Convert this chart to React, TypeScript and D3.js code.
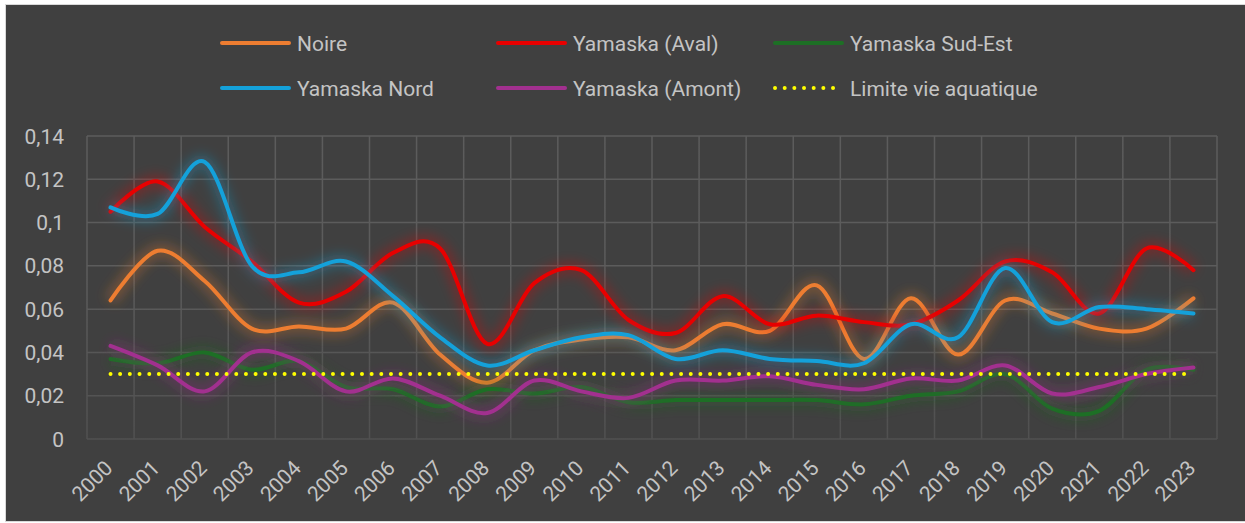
import React, { useRef, useEffect } from 'react';
import * as d3 from 'd3';

// categories
const years = ['2000', '2001', '2002', '2003', '2004', '2005', '2006', '2007', '2008', '2009', '2010', '2011',
    '2012', '2013', '2014', '2015', '2016', '2017', '2018', '2019', '2020', '2021', '2022', '2023'];

// series values
const noire = [0.064, 0.087, 0.073, 0.051, 0.052, 0.051, 0.063, 0.039, 0.026, 0.041, 0.046, 0.047,
    0.041, 0.053, 0.050, 0.071, 0.037, 0.065, 0.039, 0.064, 0.058, 0.051, 0.051, 0.065];
const aval = [0.105, 0.119, 0.098, 0.082, 0.063, 0.068, 0.086, 0.088, 0.044, 0.072, 0.078, 0.055,
    0.049, 0.066, 0.053, 0.057, 0.054, 0.053, 0.064, 0.082, 0.077, 0.058, 0.088, 0.078];
const sudEst = [0.037, 0.035, 0.040, 0.032, 0.036, 0.024, 0.023, 0.015, 0.023, 0.021, 0.024, 0.017,
    0.018, 0.018, 0.018, 0.018, 0.016, 0.020, 0.022, 0.030, 0.014, 0.013, 0.032, 0.032];
const nord = [0.107, 0.104, 0.128, 0.080, 0.077, 0.082, 0.066, 0.047, 0.034, 0.041, 0.047, 0.048,
    0.037, 0.041, 0.037, 0.036, 0.035, 0.053, 0.047, 0.079, 0.054, 0.061, 0.060, 0.058];
const amont = [0.043, 0.034, 0.022, 0.040, 0.036, 0.022, 0.028, 0.020, 0.012, 0.027, 0.022, 0.019,
    0.027, 0.027, 0.029, 0.025, 0.023, 0.028, 0.027, 0.034, 0.021, 0.024, 0.030, 0.033];
const limite = [0.03, 0.03, 0.03, 0.03, 0.03, 0.03, 0.03, 0.03, 0.03, 0.03, 0.03, 0.03,
    0.03, 0.03, 0.03, 0.03, 0.03, 0.03, 0.03, 0.03, 0.03, 0.03, 0.03, 0.03];

// tick labels
const yTicks = [0, 0.02, 0.04, 0.06, 0.08, 0.1, 0.12, 0.14];

const series = [
    { name: 'Noire', values: noire, color: '#ED7D31', dotted: false },
    { name: 'Yamaska (Aval)', values: aval, color: '#E80000', dotted: false },
    { name: 'Yamaska Sud-Est', values: sudEst, color: '#1D6F25', dotted: false },
    { name: 'Yamaska Nord', values: nord, color: '#14A1DA', dotted: false },
    { name: 'Yamaska (Amont)', values: amont, color: '#A2308F', dotted: false },
    { name: 'Limite vie aquatique', values: limite, color: '#FFFF00', dotted: true },
];

const W = 1245, H = 523;
const margin = { top: 136, right: 28, bottom: 84, left: 87 };
const FONT = 'Roboto, "Noto Sans", sans-serif';
const TXT = '#C4C4C4';

const App = () => {
    const svgRef = useRef<SVGSVGElement>(null);

    useEffect(() => {
        const svg = d3.select(svgRef.current);
        svg.selectAll('*').remove();

        const width = W - margin.left - margin.right;
        const height = H - margin.top - margin.bottom;

        // background
        svg.append('rect').attr('width', W).attr('height', H).attr('fill', '#ffffff');
        svg.append('rect').attr('x', 5.5).attr('y', 4.5).attr('width', W - 5).attr('height', H - 6)
            .attr('fill', '#404040').attr('stroke', '#d9d9d9').attr('stroke-width', 1);

        const defs = svg.append('defs');
        defs.append('filter').attr('id', 'glow')
            .attr('x', '-10%').attr('y', '-60%').attr('width', '120%').attr('height', '220%')
            .append('feGaussianBlur').attr('stdDeviation', 6);
        const grad = defs.append('linearGradient').attr('id', 'gridGrad')
            .attr('gradientUnits', 'userSpaceOnUse')
            .attr('x1', 0).attr('y1', margin.top).attr('x2', 0).attr('y2', margin.top + height);
        grad.append('stop').attr('offset', '0%').attr('stop-color', '#5c5c5c');
        grad.append('stop').attr('offset', '100%').attr('stop-color', '#474747');

        const x = d3.scaleBand().domain(years).range([0, width]);
        const y = d3.scaleLinear().domain([0, 0.14]).range([height, 0]);

        const g = svg.append('g').attr('transform', `translate(${margin.left},${margin.top})`);

        // gridlines
        const grid = g.append('g').attr('stroke', 'url(#gridGrad)').attr('stroke-width', 1.5);
        grid.selectAll('.hline').data(yTicks).enter().append('line')
            .attr('x1', 0).attr('x2', width)
            .attr('y1', d => y(d)).attr('y2', d => y(d));
        const edges = years.map(yr => x(yr) as number).concat([width]);
        grid.selectAll('.vline').data(edges).enter().append('line')
            .attr('x1', d => d).attr('x2', d => d)
            .attr('y1', 0).attr('y2', height);

        // y axis labels
        const fmt = (v: number) => String(+v.toFixed(2)).replace('.', ',');
        g.selectAll('.ylab').data(yTicks).enter().append('text')
            .attr('x', -23).attr('y', d => y(d)).attr('dy', '0.36em')
            .attr('text-anchor', 'end').attr('fill', TXT)
            .style('font-family', FONT).style('font-size', '21px')
            .text(d => fmt(d));

        // x axis labels
        const bw = x.bandwidth();
        g.selectAll('.xlab').data(years).enter().append('text')
            .attr('transform', d => `translate(${(x(d) as number) + bw / 2 - 7},${height + 20}) rotate(-45)`)
            .attr('text-anchor', 'end').attr('dy', '0.7em').attr('fill', TXT)
            .style('font-family', FONT).style('font-size', '21px')
            .text(d => d);

        // lines
        const line = d3.line<number>()
            .x((_, i) => (x(years[i]) as number) + bw / 2)
            .y(d => y(d))
            .curve(d3.curveCardinal.tension(0));

        series.forEach(s => {
            if (!s.dotted) {
                g.append('path').attr('d', line(s.values))
                    .attr('fill', 'none').attr('stroke', s.color).attr('stroke-width', 13)
                    .attr('stroke-opacity', 0.3).attr('filter', 'url(#glow)');
                g.append('path').attr('d', line(s.values))
                    .attr('fill', 'none').attr('stroke', s.color).attr('stroke-width', 4)
                    .attr('stroke-linecap', 'round');
            } else {
                g.append('path').attr('d', line(s.values))
                    .attr('fill', 'none').attr('stroke', s.color).attr('stroke-width', 13)
                    .attr('stroke-opacity', 0.12).attr('filter', 'url(#glow)');
                g.append('path').attr('d', line(s.values))
                    .attr('fill', 'none').attr('stroke', s.color).attr('stroke-width', 4)
                    .attr('stroke-linecap', 'round').attr('stroke-dasharray', '0.01 9.66');
            }
        });

        // legend
        const cols = [220, 496, 773];
        const rows = [43, 88];
        series.forEach((s, i) => {
            const lx = cols[i % 3], ly = rows[Math.floor(i / 3)];
            const lg = svg.append('g');
            if (s.dotted) {
                lg.append('line').attr('x1', lx + 2).attr('x2', lx + 62).attr('y1', ly).attr('y2', ly)
                    .attr('stroke', s.color).attr('stroke-width', 4).attr('stroke-linecap', 'round')
                    .attr('stroke-dasharray', '0.01 9.66');
            } else {
                lg.append('line').attr('x1', lx + 2).attr('x2', lx + 69).attr('y1', ly).attr('y2', ly)
                    .attr('stroke', s.color).attr('stroke-width', 4).attr('stroke-linecap', 'round');
            }
            lg.append('text').attr('x', lx + 77).attr('y', ly).attr('dy', '0.36em')
                .attr('fill', TXT).style('font-family', FONT).style('font-size', '21px')
                .text(s.name);
        });
    }, []);

    return (
        <div style={{ position: 'absolute', left: 0, top: 0 }}>
            <svg ref={svgRef} width={W} height={H} style={{ display: 'block' }}></svg>
        </div>
    );
};

export default App;
